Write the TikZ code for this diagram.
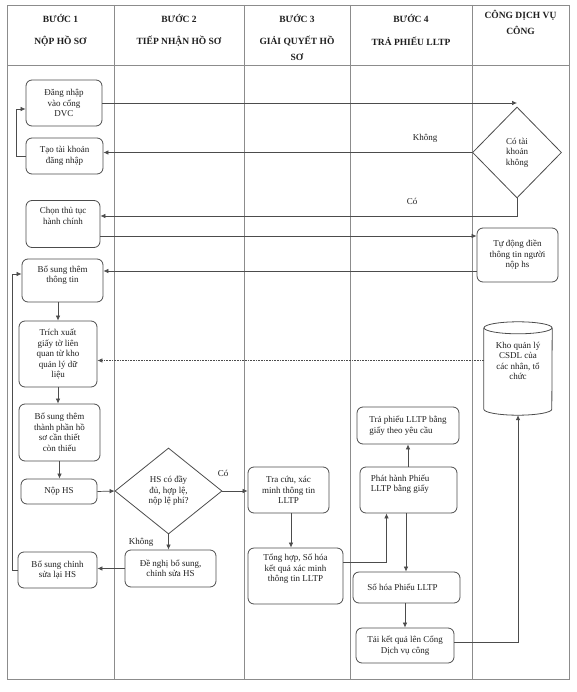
\documentclass[tikz,border=0pt]{standalone}
\usepackage{fontspec}
\setmainfont{Liberation Serif}
\usetikzlibrary{arrows.meta,shapes.geometric,calc}
\definecolor{gridc}{gray}{0.55}
\definecolor{linec}{gray}{0.3}
\definecolor{txt}{gray}{0.12}
\begin{document}
\begin{tikzpicture}[x=1pt,y=-1pt,
  font=\fontsize{9}{10.5}\selectfont,
  every node/.style={text=txt},
  box/.style={draw=linec, rounded corners=6pt, line width=0.8pt, align=center, inner sep=1pt},
  plain/.style={align=center, inner sep=0pt},
  dia/.style={draw=linec, diamond, line width=0.8pt, align=center, inner sep=0pt},
  hdr/.style={font=\fontsize{9.5}{11}\selectfont\bfseries, align=center, inner sep=0pt},
  arr/.style={draw=linec, line width=0.7pt, -{Latex[length=5pt,width=4.5pt]}},
  dotarr/.style={draw=linec, line width=0.6pt, densely dotted, -{Latex[length=5pt,width=4.5pt]}},
  lbl/.style={inner sep=0pt, text=txt}
]
\useasboundingbox (0,0) rectangle (576,692);
% table
\draw[gridc, line width=0.7pt] (7,5) rectangle (569,679);
\draw[gridc, line width=0.7pt] (7,65) -- (569,65);
\foreach \xx in {114,244,350,472} \draw[gridc, line width=0.7pt] (\xx,5) -- (\xx,679);
% headers
\node[hdr] (h1a) at (60.5,18) {BƯỚC 1};
\node[hdr] (h1b) at (60.5,41) {NỘP HỒ SƠ};
\node[hdr] (h2a) at (179,18) {BƯỚC 2};
\node[hdr] (h2b) at (179,41) {TIẾP NHẬN HỒ SƠ};
\node[hdr] (h3a) at (297,18) {BƯỚC 3};
\node[hdr] (h3b) at (297,41) {GIẢI QUYẾT HỒ};
\node[hdr] (h3c) at (297,57) {SƠ};
\node[hdr] (h4a) at (411,18) {BƯỚC 4};
\node[hdr] (h4b) at (411,41) {TRẢ PHIẾU LLTP};
\node[hdr] (h5a) at (520.5,15) {CÔNG DỊCH VỤ};
\node[hdr] (h5b) at (520.5,30) {CÔNG};
% column 1
\node[box, minimum width=76pt, minimum height=46pt] (dang) at (64,103) {Đăng nhập\\vào cổng\\DVC};
\node[box, minimum width=77pt, minimum height=36pt] (tao) at (64.5,156) {Tạo tài khoản\\đăng nhập};
\node[box, minimum width=74pt, minimum height=47pt] (chon) at (63,224) {};
\node[plain, anchor=north] (chont) at ([yshift=-7pt]chon.north) {Chọn thủ tục\\hành chính};
\node[box, minimum width=81pt, minimum height=43pt] (bst) at (62.5,280.5) {Bổ sung thêm\\thông tin\\[2pt]};
\node[box, minimum width=78pt, minimum height=66pt] (trich) at (58,354) {Trích xuất\\giấy tờ liên\\quan từ kho\\quản lý dữ\\liệu};
\node[box, minimum width=81pt, minimum height=57pt] (bstp) at (59.5,432.5) {Bổ sung thêm\\thành phần hồ\\sơ cần thiết\\còn thiếu};
\node[box, minimum width=76pt, minimum height=25pt] (nop) at (59,491.5) {Nộp HS};
\node[box, minimum width=79pt, minimum height=36pt] (bscs) at (57.5,570) {Bổ sung chỉnh\\sửa lại HS};
% column 2
\node[dia, minimum width=107pt, minimum height=86pt] (dia2) at (168.5,491) {HS có đầy\\đủ, hợp lệ,\\nộp lệ phí?};
\node[box, minimum width=91pt, minimum height=37pt] (denghi) at (170.5,568.5) {Đề nghị bổ sung,\\chỉnh sửa HS};
% column 3
\node[box, minimum width=81pt, minimum height=46pt] (tracuu) at (288.5,490) {Tra cứu, xác\\minh thông tin\\LLTP};
\node[box, minimum width=95pt, minimum height=56pt] (tonghop) at (295.5,576) {Tổng hợp, Số hóa\\kết quả xác minh\\thông tin LLTP\\[6pt]};
% column 4
\node[box, minimum width=102pt, minimum height=37pt, align=left] (traphieu) at (408,425.5) {Trả phiếu LLTP bằng\\giấy theo yêu cầu};
\node[box, minimum width=97pt, minimum height=46pt] (phathanh) at (408.5,490) {};
\node[plain, anchor=north west, align=left] (phathanht) at ([xshift=11pt,yshift=-8pt]phathanh.north west) {Phát hành Phiếu\\LLTP bằng giấy};
\node[box, minimum width=107pt, minimum height=31pt] (sohoa) at (406.5,587.5) {Số hóa Phiếu LLTP\hspace{8pt}};
\node[box, minimum width=98pt, minimum height=35pt] (tai) at (405,645.5) {Tải kết quả lên Cổng\\Dịch vụ công};
% column 5
\node[dia, minimum width=89pt, minimum height=91pt] (dia1) at (517,152.5) {Có tài\\khoản\\không};
\node[box, minimum width=81pt, minimum height=54pt] (tudong) at (517.5,255) {Tự động điền\\thông tin người\\nộp hs};
\node[plain, minimum width=68pt, minimum height=93pt] (kho) at (518,368.5) {};
\draw[linec, line width=0.8pt] (kho.north west) ++(0,6) -- ($(kho.south west)+(0,-6)$) arc[start angle=180, end angle=360, x radius=34pt, y radius=6pt] -- ($(kho.north east)+(0,6)$);
\draw[linec, line width=0.8pt] ($(kho.north)+(0,6)$) ellipse[x radius=34pt, y radius=6pt];
\node[plain, anchor=north] (khot) at ([yshift=-20pt]kho.north) {Kho quản lý\\CSDL của\\các nhân, tổ\\chức};
% connectors
\draw[arr] (dang.east) -- (dang.east -| dia1.north);
\draw[arr] (dia1.west) -- (dia1.west -| tao.east);
\node[lbl] (lkhong1) at (425,138) {Không};
\draw[arr] (dia1.south) |- ([yshift=8pt]chon.east);
\node[lbl] (lco1) at (412,201) {Có};
\draw[arr] ([yshift=-12pt]chon.east) -- ([yshift=-12pt]chon.east -| tudong.west);
\draw[arr] ([yshift=-16pt]tudong.west) -- ([yshift=-16pt]tudong.west -| bst.east);
\draw[arr] (tao.west) -- ++(-9,0) |- ([yshift=-6pt]dang.west);
\draw[arr] (bst.south -| trich.north) -- (trich.north);
\draw[arr] (trich.south) -- (trich.south |- bstp.north);
\draw[arr] (bstp.south) -- (bstp.south |- nop.north);
\draw[dotarr] ([yshift=8pt]kho.west) -- ([yshift=8pt]kho.west -| trich.east);
\draw[arr] (nop.east) -- (dia2.west);
\draw[arr] (dia2.east) -- (dia2.east -| tracuu.west);
\node[lbl] (lco2) at (223,473) {Có};
\draw[arr] (dia2.south) -- (dia2.south |- denghi.north);
\node[lbl] (lkhong2) at (141,542) {Không};
\draw[arr] (denghi.west) -- (denghi.west -| bscs.east);
\draw[arr] (bscs.west) -- ++(-5,0) |- ([yshift=6.5pt]bst.west);
\draw[arr] ([xshift=2.5pt]tracuu.south) -- ([xshift=2.5pt]tracuu.south |- tonghop.north);
\draw[arr] ([yshift=14pt]tonghop.east) -| ([xshift=-22pt]phathanh.south);
\draw[arr] (phathanh.north -| traphieu.south) -- (traphieu.south);
\draw[arr] ([xshift=-2.5pt]phathanh.south) -- ([xshift=-2.5pt]phathanh.south |- sohoa.north);
\draw[arr] (sohoa.south -| tai.north) -- (tai.north);
\draw[arr] ([yshift=3.5pt]tai.east) -| (kho.south);
\end{tikzpicture}
\end{document}
